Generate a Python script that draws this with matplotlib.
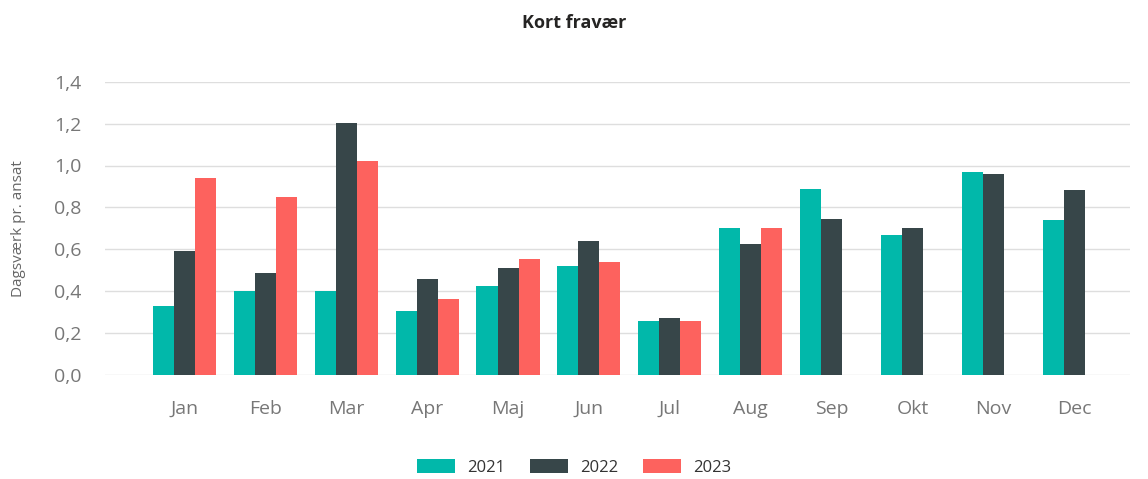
import matplotlib
matplotlib.use("Agg")
import matplotlib.pyplot as plt
import numpy as np
from matplotlib.ticker import FuncFormatter

months = ["Jan", "Feb", "Mar", "Apr", "Maj", "Jun", "Jul", "Aug", "Sep", "Okt", "Nov", "Dec"]
years = ["2021", "2022", "2023"]
v2021 = [0.33, 0.40, 0.40, 0.305, 0.425, 0.52, 0.26, 0.70, 0.89, 0.67, 0.97, 0.74]
v2022 = [0.59, 0.485, 1.205, 0.46, 0.51, 0.64, 0.27, 0.625, 0.745, 0.70, 0.96, 0.885]
v2023 = [0.94, 0.85, 1.02, 0.365, 0.555, 0.54, 0.26, 0.70, np.nan, np.nan, np.nan, np.nan]

colors = ["#01B8AA", "#374649", "#FD625E"]

plt.rcParams["font.family"] = ["Open Sans", "DejaVu Sans"]

fig = plt.figure(figsize=(11.48, 4.79), dpi=100)
ax = fig.add_axes([105 / 1148, 1 - 375 / 479, 1025 / 1148, 293.3 / 479])

x = np.arange(len(months))
width = 0.26
for i, (vals, year, color) in enumerate(zip([v2021, v2022, v2023], years, colors)):
    vals = np.array(vals, dtype=float)
    mask = ~np.isnan(vals)
    ax.bar(x[mask] + (i - 1) * width, vals[mask], width=width, color=color, label=year, zorder=3)

ax.set_xlim(-0.983, 11.69)
ax.set_ylim(0, 1.4)
ax.set_yticks(np.arange(0, 1.41, 0.2))
ax.yaxis.set_major_formatter(FuncFormatter(lambda v, p: f"{v:.1f}".replace(".", ",")))
ax.set_xticks(x)
ax.set_xticklabels(months)
ax.grid(axis="y", color="#DEDEDE", linewidth=1, zorder=0)
ax.spines[["top", "bottom", "left", "right"]].set_visible(False)
ax.tick_params(axis="both", length=0, labelsize=14, colors="#777777")
ax.tick_params(axis="x", pad=18)
ax.tick_params(axis="y", pad=17)

ax.set_ylabel("Dagsværk pr. ansat", fontsize=11, color="#666666", labelpad=20)

fig.suptitle("Kort fravær", x=0.5, y=0.97, fontsize=13, fontweight="bold", color="#252423")

fig.legend(loc="lower center", ncol=3, bbox_to_anchor=(0.5, -0.025), frameon=False,
           fontsize=12, handlelength=2.3, handleheight=0.9, handletextpad=0.7,
           columnspacing=1.5, labelcolor="#333333")

fig.savefig("out.png", dpi=100)
